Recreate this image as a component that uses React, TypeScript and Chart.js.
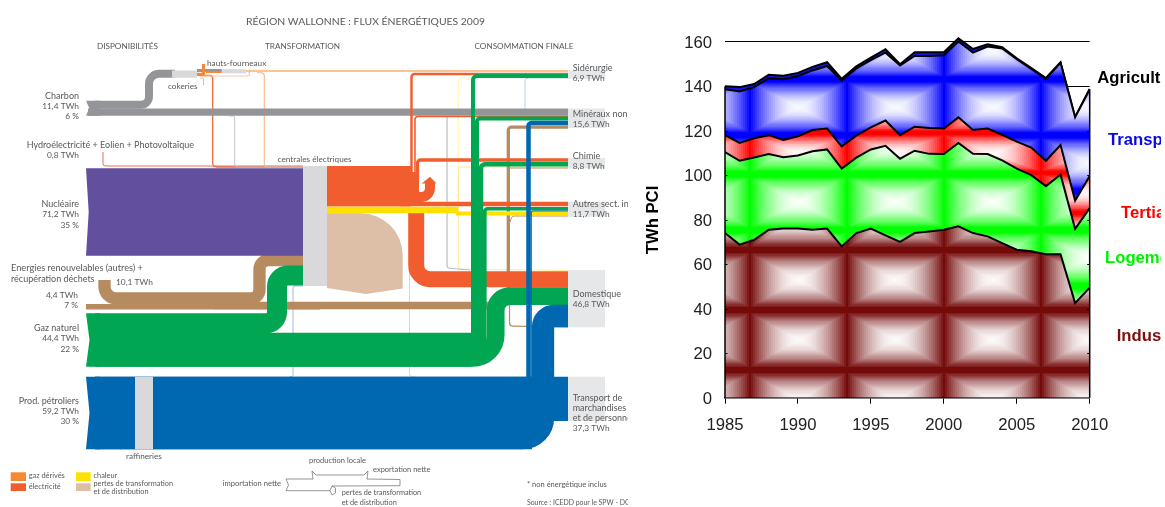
import React, { useEffect, useRef } from "react";
import { Chart, registerables } from "chart.js";

Chart.register(...registerables);

/* ---------- Stacked consumption series, TWh PCI ---------- */
const years = [1985, 1986, 1987, 1988, 1989, 1990, 1991, 1992, 1993, 1994, 1995, 1996, 1997, 1998, 1999, 2000, 2001, 2002, 2003, 2004, 2005, 2006, 2007, 2008, 2009, 2010];
const industrie = [74, 68.8, 71, 75.5, 76, 76, 75.5, 76, 68, 74, 76, 73, 70, 74, 74.7, 75.5, 77, 74, 72.5, 69.5, 66.5, 65.8, 64.5, 64.5, 42.5, 49.5];
const logement = [36.4, 37.7, 37, 34, 32.1, 32.9, 35.3, 35.6, 35, 33.9, 35.6, 40.2, 37.4, 37, 34.9, 34, 37.5, 35.6, 37, 37.2, 36.5, 34.2, 30.6, 35.8, 33.4, 35.7];
const tertiaire = [7.6, 8, 8.6, 8.5, 7.8, 8.6, 9.5, 9.4, 10, 9.9, 9.9, 11.4, 10.6, 10.8, 11.6, 11.5, 11.5, 10.7, 11.5, 11.5, 12.1, 12.4, 11.4, 13.3, 12.7, 14.4];
const transport = [20.6, 23.1, 23, 25.6, 27.2, 27.1, 26.8, 28.1, 29.6, 30.2, 30.2, 30.5, 31.3, 31.8, 32.4, 32.9, 34.1, 34.8, 36.8, 38.8, 37.1, 35.4, 36.9, 36.9, 37.4, 39];
const agriculture = [1.4, 2, 1.4, 1.6, 1.6, 1.4, 1.6, 1.7, 0.7, 0.9, 1.2, 1.5, 0.6, 1.7, 1.7, 1.4, 1.4, 1.6, 1, 0.5, 0.3, 0.3, 0.3, 0.3, 0.2, 0.2];

/* ---------- Energy flow diagram: [name, TWh (null = filled block), colour, route] ---------- */
type Pt = [number, number, number?];
type Shape = [string, number | null, string, Pt[]];

const PURPLE = "#62509f", GREY = "#939598", LIGHT = "#d9d9db", BACK = "#e6e7e8";
const TAN = "#b68b5f", BEIGE = "#dcbfa6", GREEN = "#00a651", BLUE = "#0067b1";
const RED = "#f15d2e", ORANGE = "#f58a33", YELLOW = "#ffe100";

const backdrops: Shape[] = [
  ["fond sidérurgie", null, BACK, [[568, 70], [605, 70], [605, 79], [568, 79]]],
  ["fond minéraux", null, BACK, [[568, 108.5], [605, 108.5], [605, 128], [568, 128]]],
  ["fond chimie", null, BACK, [[568, 158], [605, 158], [605, 168.5], [568, 168.5]]],
  ["fond autres", null, BACK, [[568, 201.7], [605, 201.7], [605, 216.7], [568, 216.7]]],
  ["fond domestique", null, BACK, [[568, 270], [605, 270], [605, 327.3], [568, 327.3]]],
  ["fond transport", null, BACK, [[568, 376.7], [605, 376.7], [605, 421], [568, 421]]],
];

const thinFlows: Shape[] = [
  ["hydro", 0.8, "#f1683c", [[103, 152], [103, 166, 2.5], [303, 166]]],
  ["électricité cokeries", 1.1, "#f26a3c", [[199, 75.5], [212.7, 75.5, 3], [212.7, 167, 4], [303, 167]]],
  ["électricité hauts-fourneaux", 0.9, "#f9b48a", [[257, 72.8], [264.3, 72.8, 3], [264.3, 167, 3], [303, 167]]],
  ["gaz retour", 1, "#f8c9ac", [[199, 76], [256, 76, 2], [250, 73]]],
  ["pertes cokeries", 0.8, "#d9b99c", [[200, 78], [203.5, 78, 1], [203.5, 85]]],
  ["charbon centrales", 0.7, "#bbbdbf", [[229, 116], [234.7, 116, 2], [234.7, 167, 3], [303, 167]]],
  ["pétrole centrales", 0.7, "#8fb0d8", [[290, 376.7], [293, 376.7, 2], [293, 286, 2], [303, 286]]],
  ["pertes pétrole", 0.7, "#f6c2b0", [[415, 376.7], [409.5, 376.7, 3], [409.5, 213]]],
  ["chaleur sidérurgie", 0.7, "#fff0a0", [[472, 78], [458.3, 78, 3], [458.3, 212]]],
  ["chaleur chimie", 0.7, "#ffe98a", [[568, 167], [458.3, 167, 3], [458.3, 212]]],
  ["chaleur domestique", 0.7, "#ffe98a", [[458.3, 213], [458.3, 269, 3], [568, 270.5]]],
  ["charbon domestique", 1, "#bcbec0", [[447, 116], [447, 268, 3], [470, 270]]],
  ["pétrole sidérurgie", 0.7, "#a9c9e6", [[568, 78], [525, 78, 3], [525, 120]]],
  ["gaz dérivés", 1.3, "#fbb06a", [[246, 71], [568, 71]]],
];

const coalFlows: Shape[] = [
  ["charbon minéraux", 5.9, GREY, [[88, 112.2], [568, 112.2]]],
  ["charbon cokeries", 6.5, GREY, [[95, 104.7], [149, 104.7, 8], [149, 73.8, 10], [175, 73.8]]],
  ["queue charbon", null, GREY, [[86, 100.7], [100, 100.7], [100, 115.7], [86, 115.7], [89.3, 108.2]]],
  ["cokeries", null, LIGHT, [[172, 70.5], [197, 70.5], [197, 77.7], [172, 77.7]]],
  ["charbon hauts-fourneaux", 2.4, GREY, [[197, 70.5], [222, 70.5]]],
  ["gaz hauts-fourneaux", 1.3, ORANGE, [[206, 72.2], [222, 72.2]]],
  ["hauts-fourneaux", null, LIGHT, [[221.7, 69.2], [246, 69.2], [246, 73.3], [221.7, 73.3]]],
  ["gaz cokeries", 2.6, ORANGE, [[203.5, 64], [203.5, 74.3, 1], [197, 74.3]]],
];

const renewableFlows: Shape[] = [
  ["déchets", 4.4, TAN, [[86, 306.7], [320, 306.7]]],
  ["renouvelables domestique", 6.2, TAN, [[214, 305.5], [500, 305.5]]],
  ["renouvelables centrales", 10.1, TAN, [[104.5, 280], [104.5, 298.5, 12], [259.5, 298.5, 9], [259.5, 260.2, 9], [303, 260.2]]],
  ["renouvelables minéraux", 2.7, TAN, [[568, 127.2], [508.3, 127.2, 3], [508.3, 303]]],
  ["renouvelables domicile", 1, TAN, [[509.5, 303], [509.5, 326, 3], [568, 327]]],
  ["renouvelables chimie", 1, TAN, [[568, 168], [510, 168]]],
  ["renouvelables autres", 0.8, TAN, [[568, 216], [512, 216, 3], [510, 222]]],
];

const powerFlows: Shape[] = [
  ["nucléaire", null, PURPLE, [[86, 168.3], [303, 168.3], [303, 255.7], [86, 255.7], [88.7, 212]]],
  ["électricité", null, RED, [[327, 166], [411, 166], [411, 206.5], [327, 206.5]]],
  ["élec sidérurgie", 2, RED, [[411.5, 180], [411.5, 74, 3], [568, 74]]],
  ["élec minéraux", 1.3, RED, [[415, 180], [415, 116.5, 3], [568, 116.5]]],
  ["élec chimie", 2.7, RED, [[417.5, 180], [417.5, 160, 3], [568, 160]]],
  ["élec colonne", null, RED, [[411, 172], [419, 172], [419, 203], [411, 203]]],
  ["élec autres", 3.5, RED, [[400, 204], [568, 204]]],
  ["boucle", 8.2, RED, [[415, 197], [430, 197, 9], [430, 183]]],
  ["pointe", null, RED, [[421.7, 183.5], [430, 176.7], [436.5, 183.5]]],
  ["élec domestique", 13.1, RED, [[416.2, 207], [416.2, 279.2, 14], [568, 279.2]]],
  ["chaleur", 5.3, YELLOW, [[327, 209.9], [458, 209.9]]],
  ["chaleur autres", 3.3, YELLOW, [[456, 213.5], [568, 213.5]]],
  ["pertes", null, BEIGE, [[327, 213.3], [402.7, 213.3, 42], [402.7, 288.5], [366, 294], [327, 288]]],
  ["centrales", null, LIGHT, [[303, 166], [327, 166], [327, 286], [303, 286]]],
];

const gasFlows: Shape[] = [
  ["gaz centrales", 16.4, GREEN, [[95, 323.3], [277, 323.3, 11], [277, 275.5, 11], [303, 275.5]]],
  ["gaz sidérurgie", 3.3, GREEN, [[95, 335], [473, 335], [473, 76, 4], [568, 76]]],
  ["gaz minéraux", 3.3, GREEN, [[95, 339], [477, 339], [477, 118.5, 3], [568, 118.5]]],
  ["gaz chimie", 3.7, GREEN, [[95, 343], [481, 343], [481, 164.2, 4], [568, 164.2]]],
  ["gaz autres", 2.9, GREEN, [[95, 347.3], [484.7, 347.3], [484.7, 208.7, 3], [568, 208.7]]],
  ["gaz domestique", 14.5, GREEN, [[95, 358], [495.7, 358, 23], [495.7, 296.2, 14], [568, 296.2]]],
  ["tronc gaz", null, GREEN, [[95, 332.7], [471, 332.7], [471, 120], [475, 120], [475, 166], [479, 166], [479, 210], [486.3, 210], [486.3, 352], [471, 366.7], [95, 366.7]]],
  ["queue gaz", null, GREEN, [[86, 313.3], [100, 313.3], [100, 366.7], [86, 366.7], [89.5, 340]]],
];

const oilFlows: Shape[] = [
  ["transport", 36.4, BLUE, [[95, 398.9], [568, 398.9]]],
  ["pétrole minéraux", 3.7, BLUE, [[95, 423], [528.5, 423], [528.5, 123, 3], [568, 123]]],
  ["pétrole autres", 1, BLUE, [[95, 426], [531.2, 426], [531.2, 211, 2], [568, 211]]],
  ["pétrole domestique", 18.3, BLUE, [[95, 438], [543, 438, 20], [543, 316, 11], [568, 316]]],
  ["tronc pétrole", null, BLUE, [[95, 376.7], [532, 376.7], [532, 449.3], [95, 449.3]]],
  ["queue pétrole", null, BLUE, [[86, 376.7], [100, 376.7], [100, 449.3], [86, 449.3], [89.5, 413]]],
  ["raffineries", null, LIGHT, [[135, 376.7], [153, 376.7], [153, 449.3], [135, 449.3]]],
];

const legendSwatches: Shape[] = [
  ["clé gaz dérivés", null, ORANGE, [[10.7, 472.3], [26, 472.3], [26, 481], [10.7, 481]]],
  ["clé électricité", null, RED, [[10.7, 483.3], [26, 483.3], [26, 491], [10.7, 491]]],
  ["clé chaleur", null, YELLOW, [[76, 472.3], [90.7, 472.3], [90.7, 481], [76, 481]]],
  ["clé pertes", null, BEIGE, [[76, 483.3], [90.7, 483.3], [90.7, 491], [76, 491]]],
];

const keyOutlines: Shape[] = [
  ["schéma importation", 0.6, "#6d6e71", [[312, 471], [313, 479], [286, 479], [288.5, 485], [286, 490.7], [330, 490.7], [332, 486], [336, 486], [400, 485.7], [400, 479.5], [367, 479], [368, 471]]],
  ["schéma production", 0.6, "#6d6e71", [[312, 471], [316, 475], [364, 475], [368, 471]]],
  ["schéma pertes", 0.6, "#6d6e71", [[332, 486], [335.5, 488], [335.5, 493], [332, 495], [330, 490.7]]],
];

const allShapes: Shape[] = [
  ...backdrops, ...thinFlows, ...coalFlows, ...renewableFlows, ...powerFlows,
  ...gasFlows, ...oilFlows, ...legendSwatches, ...keyOutlines,
];

/* ---------- Diagram captions: [text, x, y, align, size] ---------- */
type Caption = [string, number, number, CanvasTextAlign, number];
const captions: Caption[] = [
  ["RÉGION WALLONNE : FLUX ÉNERGÉTIQUES 2009", 365.5, 22, "center", 10.4],
  ["DISPONIBILITÉS", 127.5, 46, "center", 8.2],
  ["TRANSFORMATION", 302.5, 46, "center", 8.2],
  ["CONSOMMATION FINALE", 524, 46, "center", 8.2],
  ["hauts-fourneaux", 207, 63.7, "left", 8.2],
  ["cokeries", 168, 86, "left", 8.2],
  ["Charbon", 79, 96.5, "right", 9],
  ["11,4 TWh", 79, 106.5, "right", 8.4],
  ["6 %", 79, 116.5, "right", 8.4],
  ["Hydroélectricité + Eolien + Photovoltaïque", 26.7, 145, "left", 9],
  ["0,8 TWh", 79, 155, "right", 8.4],
  ["centrales électriques", 277.7, 159, "left", 8.2],
  ["Nucléaire", 79, 203.7, "right", 9],
  ["71,2 TWh", 79, 214, "right", 8.4],
  ["35 %", 79, 225, "right", 8.4],
  ["Energies renouvelables (autres) +", 11, 268.3, "left", 9.2],
  ["récupération déchets", 11, 279, "left", 9],
  ["10,1 TWh", 116, 282.3, "left", 8.4],
  ["4,4 TWh", 78, 295.3, "right", 8.4],
  ["7 %", 78, 305.7, "right", 8.4],
  ["Gaz naturel", 79, 327.7, "right", 9],
  ["44,4 TWh", 79, 338.7, "right", 8.4],
  ["22 %", 79, 349, "right", 8.4],
  ["Prod. pétroliers", 79, 400.7, "right", 9],
  ["59,2 TWh", 79, 411, "right", 8.4],
  ["30 %", 79, 421, "right", 8.4],
  ["raffineries", 126, 456.7, "left", 8.2],
  ["Sidérurgie", 572.7, 68.3, "left", 9],
  ["6,9 TWh", 572.7, 78.7, "left", 8.4],
  ["Minéraux non", 572.7, 114.5, "left", 9],
  ["15,6 TWh", 572.7, 124.7, "left", 8.4],
  ["Chimie", 572.7, 156.5, "left", 9],
  ["8,8 TWh", 572.7, 166.7, "left", 8.4],
  ["Autres sect. in", 572.7, 204, "left", 9],
  ["11,7 TWh", 572.7, 214, "left", 8.4],
  ["Domestique", 572.7, 294, "left", 9],
  ["46,8 TWh", 572.7, 304.3, "left", 8.4],
  ["Transport de", 572.7, 397.7, "left", 9],
  ["marchandises", 572.7, 407.7, "left", 9],
  ["et de personne", 572.7, 418, "left", 9],
  ["37,3 TWh", 572.7, 428.5, "left", 8.4],
  ["gaz dérivés", 28.7, 476, "left", 7.4],
  ["électricité", 28.7, 486.7, "left", 7.4],
  ["chaleur", 93.5, 476, "left", 7.4],
  ["pertes de transformation", 93.5, 483.7, "left", 7.3],
  ["et de distribution", 93.5, 491.7, "left", 7.3],
  ["importation nette", 222.7, 484, "left", 7.6],
  ["production locale", 309, 460.7, "left", 7.5],
  ["exportation nette", 373, 469.3, "left", 7.5],
  ["pertes de transformation", 341.7, 493, "left", 7.3],
  ["et de distribution", 341.7, 502.7, "left", 7.3],
  ["* non énergétique inclus", 527, 485, "left", 7.5],
  ["Source : ICEDD pour le SPW - DG", 527, 502.3, "left", 6.9],
];

/* ---------- Sector names beside the stacked areas ---------- */
const sectorNames: [string, number, number, string][] = [
  ["Agriculture", 457.3, 83, "#000000"],
  ["Transport", 468, 145, "#0a0ae6"],
  ["Tertiaire", 481, 218, "#ff0000"],
  ["Logement", 465, 262.7, "#00f000"],
  ["Industrie", 476.7, 340.7, "#7f0f0f"],
];

const PX_PER_TWH = 1.22;
const DIAGRAM_FONT = "Lato";
const PLOT_FONT = "'Liberation Sans'";

// Square-path gradient tile: full colour on the tile edges, white in its centre.
function gradientTile(w: number, h: number, rgb: number[], offX: number, offY: number) {
  const c = document.createElement("canvas");
  c.width = w;
  c.height = h;
  const g = c.getContext("2d")!;
  const img = g.createImageData(w, h);
  const steps = 24;
  for (let y = 0; y < h; y++) {
    for (let x = 0; x < w; x++) {
      const dx = Math.abs(x + 0.5 - w / 2) / (w / 2);
      const dy = Math.abs(y + 0.5 - h / 2) / (h / 2);
      let t = Math.min(1, Math.max(dx, dy * 1.1));
      t = Math.round(t * steps) / steps;
      const k = 0.03 + 0.97 * Math.pow(t, 1.8);
      const i = (y * w + x) * 4;
      for (let n = 0; n < 3; n++) img.data[i + n] = Math.round(255 + (rgb[n] - 255) * k);
      img.data[i + 3] = 255;
    }
  }
  g.putImageData(img, 0, 0);
  const p = g.createPattern(c, "repeat")!;
  p.setTransform(new DOMMatrix().translate(offX, offY));
  return p;
}

// Paints every flow of the diagram from its points as placed by the chart's scales.
const flowPainter = {
  id: "flowPainter",
  beforeDatasetsDraw(chart: any) {
    const ctx: CanvasRenderingContext2D = chart.ctx;
    chart.data.datasets.forEach((ds: any, i: number) => {
      const pts = chart.getDatasetMeta(i).data;
      ctx.save();
      ctx.beginPath();
      ctx.moveTo(pts[0].x, pts[0].y);
      for (let j = 1; j < pts.length; j++) {
        const r = ds.cornerRadii[j];
        if (r && j < pts.length - 1) ctx.arcTo(pts[j].x, pts[j].y, pts[j + 1].x, pts[j + 1].y, r);
        else ctx.lineTo(pts[j].x, pts[j].y);
      }
      if (ds.twh === null) {
        ctx.closePath();
        ctx.fillStyle = ds.shapeColour;
        ctx.fill();
      } else {
        ctx.lineWidth = ds.twh * PX_PER_TWH;
        ctx.strokeStyle = ds.shapeColour;
        ctx.lineJoin = "miter";
        ctx.lineCap = "butt";
        ctx.stroke();
      }
      ctx.restore();
    });
  },
  afterDatasetsDraw(chart: any) {
    const ctx: CanvasRenderingContext2D = chart.ctx;
    ctx.save();
    ctx.textBaseline = "middle";
    ctx.fillStyle = "#58595b";
    captions.forEach(([text, x, y, align, size]) => {
      ctx.font = `${size}px ${DIAGRAM_FONT}`;
      ctx.textAlign = align;
      ctx.fillText(text, x, y);
    });
    ctx.restore();
  },
};

// Outline of the stack's end edges, inner ticks and the texts around the plot.
const plotDecor = {
  id: "plotDecor",
  afterDatasetsDraw(chart: any) {
    const ctx: CanvasRenderingContext2D = chart.ctx;
    const xs = chart.scales.x;
    const ys = chart.scales.y;
    const top = chart.getDatasetMeta(chart.data.datasets.length - 1).data;
    const bottom = ys.getPixelForValue(0);
    const left = xs.getPixelForValue(years[0]);
    const right = xs.getPixelForValue(years[years.length - 1]);
    ctx.save();
    ctx.strokeStyle = "#000";
    ctx.lineWidth = 1.5;
    ctx.beginPath();
    ctx.moveTo(left, top[0].y);
    ctx.lineTo(left, bottom);
    ctx.moveTo(right, top[top.length - 1].y);
    ctx.lineTo(right, bottom);
    ctx.stroke();
    ctx.lineWidth = 1;
    ctx.beginPath();
    for (let v = 20; v <= 120; v += 20) {
      const y = Math.round(ys.getPixelForValue(v)) + 0.5;
      ctx.moveTo(left, y);
      ctx.lineTo(left + 2.5, y);
      ctx.moveTo(right, y);
      ctx.lineTo(right - 2.5, y);
    }
    ctx.stroke();
    ctx.font = `bold 16.7px ${PLOT_FONT}`;
    ctx.textBaseline = "alphabetic";
    ctx.textAlign = "left";
    sectorNames.forEach(([name, x, y, colour]) => {
      ctx.fillStyle = colour;
      ctx.fillText(name, x, y);
    });
    ctx.translate(18, 220);
    ctx.rotate(-Math.PI / 2);
    ctx.textAlign = "center";
    ctx.font = `bold 16.7px ${PLOT_FONT}`;
    ctx.fillStyle = "#000";
    ctx.fillText("TWh PCI", 0, 0);
    ctx.restore();
  },
};

export default function App() {
  const leftRef = useRef<HTMLCanvasElement>(null);
  const rightRef = useRef<HTMLCanvasElement>(null);

  useEffect(() => {
    const diagram = new Chart(leftRef.current!, {
      type: "line",
      data: {
        datasets: allShapes.map(([name, twh, colour, route]) => ({
          label: name,
          data: route.map(([x, y]) => ({ x, y })),
          showLine: false,
          pointRadius: 0,
          twh,
          shapeColour: colour,
          cornerRadii: route.map((p) => p[2] ?? 0),
        })) as any,
      },
      options: {
        animation: false,
        responsive: false,
        events: [],
        layout: { padding: 0 },
        plugins: { legend: { display: false }, tooltip: { enabled: false } },
        scales: {
          x: { type: "linear", min: 0, max: 628, display: false },
          y: { type: "linear", min: 0, max: 507, reverse: true, display: false },
        },
      },
      plugins: [flowPainter],
    });

    const series: [string, number[], CanvasPattern | string][] = [
      ["Industrie", industrie, gradientTile(97, 60, [116, 10, 10], 13, 10)],
      ["Logement", logement, gradientTile(97, 56, [0, 255, 0], 13, 6)],
      ["Tertiaire", tertiaire, gradientTile(97, 40, [255, 0, 0], 13, 13)],
      ["Transport", transport, gradientTile(97, 56, [0, 0, 255], 13, 23.3)],
      ["Agriculture", agriculture, "#1414e0"],
    ];

    const areas = new Chart(rightRef.current!, {
      type: "line",
      data: {
        datasets: series.map(([label, values, fillStyle], i) => ({
          label,
          data: values.map((v, j) => ({ x: years[j], y: v })),
          backgroundColor: fillStyle,
          borderColor: "#000",
          borderWidth: 2,
          pointRadius: 0,
          tension: 0,
          fill: i === 0 ? "origin" : "-1",
        })) as any,
      },
      options: {
        animation: false,
        responsive: false,
        events: [],
        layout: { padding: { top: 30.6, right: 71.3, left: 0, bottom: 0 } },
        plugins: { legend: { display: false }, tooltip: { enabled: false } },
        scales: {
          x: {
            type: "linear",
            min: 1985,
            max: 2010,
            afterFit: (s: any) => { s.height = 109.3; },
            ticks: { stepSize: 5, color: "#222", padding: 12, maxRotation: 0, font: { family: "Liberation Sans", size: 16.7 }, callback: (v: any) => String(v) },
            grid: { drawOnChartArea: false, tickLength: 6, color: "#000" },
            border: { display: true, color: "#000", width: 1.5 },
          },
          y: {
            type: "linear",
            stacked: true,
            min: 0,
            max: 165,
            afterFit: (s: any) => { s.width = 85; },
            ticks: { stepSize: 20, includeBounds: false, color: "#222", padding: 13, labelOffset: 1.5, font: { family: "Liberation Sans", size: 16.7 } },
            grid: { color: "#000", lineWidth: 1, drawTicks: false },
            border: { display: false },
          },
        },
      },
      plugins: [plotDecor],
    });

    return () => {
      diagram.destroy();
      areas.destroy();
    };
  }, []);

  return (
    <div style={{ position: "absolute", left: 0, top: 0, width: 1165, height: 507, background: "#fff", overflow: "hidden" }}>
      <canvas ref={leftRef} width={628} height={507} style={{ position: "absolute", left: 0, top: 0 }} />
      <canvas ref={rightRef} width={521} height={507} style={{ position: "absolute", left: 640, top: 0 }} />
    </div>
  );
}
